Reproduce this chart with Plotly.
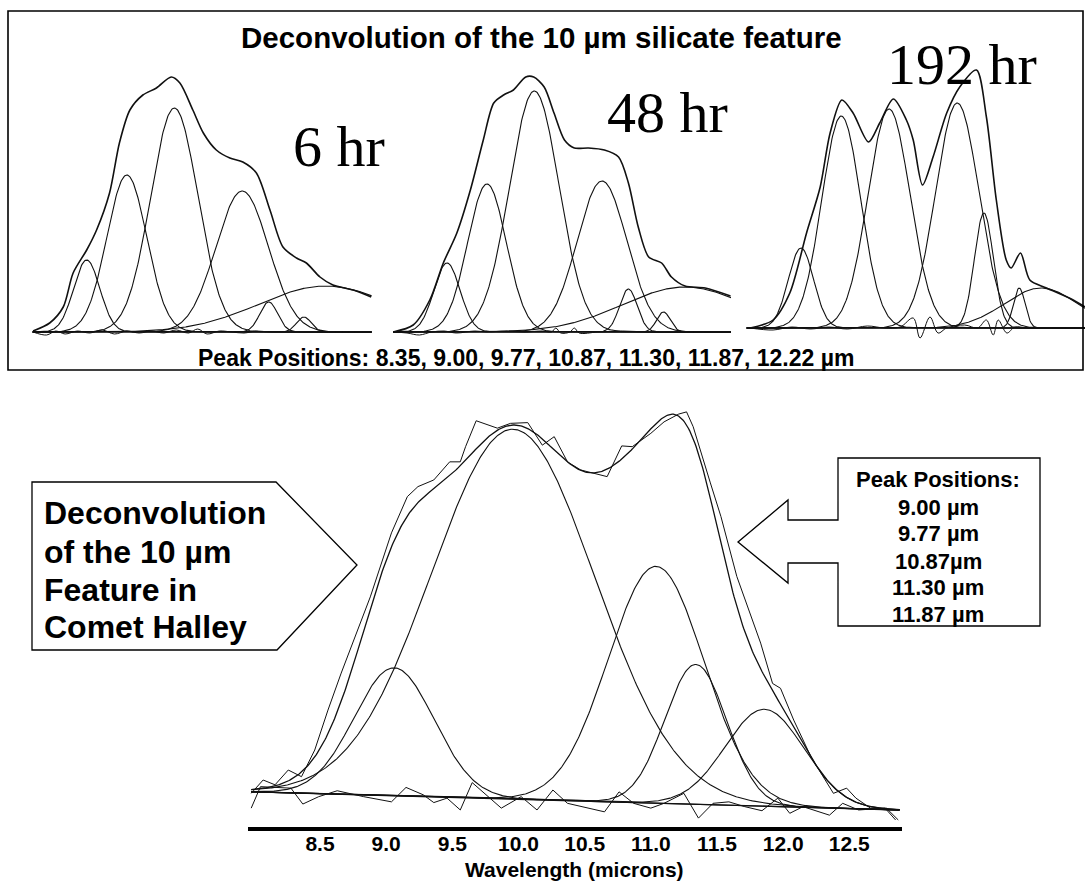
import numpy as np
import plotly.graph_objects as go

# ---------------- data ----------------
PEAKS = [8.35, 9.00, 9.77, 10.87, 11.30, 11.87, 12.22]          # µm, shared by the three upper panels
PANEL_LABELS = ["6 hr", "48 hr", "192 hr"]

# component heights (arbitrary flux units) and FWHM (µm) for each time step
P1_HEIGHT = [72, 157, 224, 141, 30, 15, 46]
P1_FWHM = [0.50, 0.76, 0.90, 1.00, 0.34, 0.28, 2.54]
P2_HEIGHT = [69, 148, 241, 151, 43, 20, 45]
P2_FWHM = [0.50, 0.74, 0.95, 0.95, 0.34, 0.26, 2.40]
P3_HEIGHT = [80, 212, 219, 225, 115, 40, 40]
P3_FWHM = [0.48, 0.74, 0.80, 0.82, 0.36, 0.22, 1.40]

# observed spectra (upper panels)
P1_OBS_X = [7.48, 7.75, 7.97, 8.13, 8.35, 8.51, 8.72, 8.88, 9.05, 9.26, 9.48, 9.72, 9.86, 10.07,
            10.24, 10.45, 10.67, 10.88, 11.10, 11.32, 11.53, 11.75, 11.91, 12.13, 12.34, 12.67, 12.96]
P1_OBS_Y = [1, 9, 25, 59, 82, 102, 139, 189, 222, 237, 244, 255, 249, 222,
            199, 182, 174, 170, 159, 122, 85, 74, 69, 55, 47, 42, 35]
P2_OBS_X = [7.47, 7.80, 8.07, 8.29, 8.51, 8.73, 8.94, 9.11, 9.27, 9.43, 9.63, 9.76, 9.93, 10.09,
            10.26, 10.42, 10.65, 10.91, 11.14, 11.30, 11.46, 11.63, 11.84, 12.00, 12.22, 12.55, 12.96]
P2_OBS_Y = [0, 7, 32, 69, 99, 142, 192, 229, 237, 242, 255, 255, 245, 219,
            192, 184, 184, 182, 175, 149, 105, 75, 69, 55, 46, 44, 36]
P3_OBS_X = [7.53, 7.90, 8.17, 8.44, 8.66, 8.82, 9.01, 9.19, 9.44, 9.62, 9.84, 10.05, 10.16, 10.31,
            10.48, 10.70, 10.91, 11.18, 11.34, 11.50, 11.66, 11.74, 11.89, 12.04, 12.31, 12.74, 12.93]
P3_OBS_Y = [0, 8, 35, 95, 141, 195, 228, 215, 186, 205, 229, 208, 188, 143,
            171, 215, 241, 258, 211, 128, 68, 60, 75, 48, 40, 28, 21]

# residuals (upper panels)
P1_RES_X = [7.48, 7.7, 7.85, 8.0, 8.2, 8.4, 8.6, 8.8, 9.0, 9.2, 9.4, 9.6, 9.8, 10.0, 10.15,
            10.3, 10.5, 10.7, 10.9, 11.1, 11.3, 11.6, 12.0, 12.5, 12.96]
P1_RES_Y = [0, -3, 1, -2, 1, -1, 2, -2, 1, -1, 1, -1, 2, -1, 3, -2, 1, 0, -1, 1, 0, 0, 0, 0, 0]
P2_RES_X = [7.47, 7.7, 7.9, 8.1, 8.3, 8.5, 8.8, 9.0, 9.3, 9.6, 9.9, 10.05, 10.12, 10.2, 10.35,
            10.42, 10.5, 10.8, 11.2, 11.6, 12.0, 12.96]
P2_RES_Y = [0, -1, -3, 0, 1, -1, 1, 0, 1, 0, 1, 0, 4, -1, 0, 4, -1, 0, 1, 0, 0, 0]
P3_RES_X = [7.53, 7.9, 8.2, 8.5, 8.8, 9.1, 9.42, 9.7, 9.95, 10.16, 10.27, 10.43, 10.56, 10.7,
            10.99, 11.2, 11.34, 11.45, 11.53, 11.67, 11.8, 12.0, 12.4, 12.93]
P3_RES_Y = [0, -2, 1, -1, 1, -1, 2, 0, 1, 10, -10, 11, -5, 0, 3, 0, 8, -7, 8, -5, 1, 0, 0, 0]

# Comet Halley (lower panel)
HAL_CENTER = [9.06, 9.96, 11.04, 11.34, 11.86]
HAL_HEIGHT = [34.6, 100.0, 64.0, 37.8, 26.2]
HAL_FWHM = [0.71, 1.45, 0.85, 0.55, 0.70]
HAL_BASE_X = [7.98, 12.88]
HAL_BASE_Y = [2.2, -2.7]
HAL_OBS_X = [7.98, 8.07, 8.16, 8.26, 8.36, 8.46, 8.56, 8.66, 8.88, 9.04, 9.16, 9.24, 9.36, 9.48,
             9.56, 9.60, 9.68, 9.84, 9.94, 10.07, 10.18, 10.27, 10.37, 10.47, 10.67, 10.78, 10.86,
             11.00, 11.10, 11.21, 11.27, 11.32, 11.45, 11.53, 11.65, 11.83, 11.92, 11.98, 12.08,
             12.21, 12.38, 12.48, 12.55, 12.66, 12.78, 12.87]
HAL_OBS_Y = [1.8, 5.4, 4.1, 8.1, 6.3, 13.5, 24.3, 34.3, 54.9, 72.2, 82.0, 84.7, 86.5, 91.4,
             91.4, 95.5, 102.5, 100.5, 101.8, 102.0, 95.9, 98.2, 91.4, 89.2, 87.4, 95.7, 95.5,
             99.1, 102.2, 104.3, 104.9, 100.9, 85.7, 76.6, 60.4, 42.4, 31.5, 30.2, 21.6,
             11.7, 1.8, 3.2, 0.5, -2.2, -2.2, -5.4]
HAL_RES_X = [7.98, 8.05, 8.28, 8.37, 8.49, 8.63, 8.83, 9.04, 9.15, 9.28, 9.36, 9.46, 9.56, 9.65,
             9.87, 10.02, 10.14, 10.26, 10.37, 10.65, 10.76, 10.87, 11.00, 11.10, 11.25, 11.36,
             11.47, 11.59, 11.71, 11.84, 11.96, 12.05, 12.15, 12.35, 12.45, 12.57, 12.77, 12.85]
HAL_RES_Y = [-2.2, 3.6, 3.2, -1.1, 0.9, 2.5, 0.9, -0.5, 3.4, 1.4, -0.7, 0.5, -2.7, 4.7,
             -2.2, 0.9, -2.7, 2.7, -0.9, -3.2, 2.2, -0.9, -2.2, -0.9, 1.8, -4.9,
             -0.9, -0.5, -1.8, -2.9, 0.5, -3.6, -1.8, -4.1, -0.9, -2.7, -2.2, -5.4]

X_TICKS = [8.5, 9.0, 9.5, 10.0, 10.5, 11.0, 11.5, 12.0, 12.5]
X_TICK_TEXT = ["8.5", "9.0", "9.5", "10.0", "10.5", "11.0", "11.5", "12.0", "12.5"]
HALLEY_PEAK_TEXT = ["9.00 µm", "9.77 µm", "10.87µm", "11.30 µm", "11.87 µm"]

# ---------------- helpers ----------------
W, H = 1085, 882
SANS = "Liberation Sans, Arial, Helvetica, sans-serif"
SERIF = "Liberation Serif, Times New Roman, serif"
INK = "#111111"


def fx(p):
    return p / W


def fy(p):
    return 1 - p / H


def gauss(x, c, h, fwhm):
    s = fwhm / 2.3548
    return h * np.exp(-0.5 * ((x - c) / s) ** 2)


fig = go.Figure()

panels = [
    dict(h=P1_HEIGHT, w=P1_FWHM, ox=P1_OBS_X, oy=P1_OBS_Y, rx=P1_RES_X, ry=P1_RES_Y,
         xr=[7.47, 12.97], yr=[-8, 272], dom=[32.4, 371.8]),
    dict(h=P2_HEIGHT, w=P2_FWHM, ox=P2_OBS_X, oy=P2_OBS_Y, rx=P2_RES_X, ry=P2_RES_Y,
         xr=[7.47, 12.97], yr=[-8, 272], dom=[392.9, 731.1]),
    dict(h=P3_HEIGHT, w=P3_FWHM, ox=P3_OBS_X, oy=P3_OBS_Y, rx=P3_RES_X, ry=P3_RES_Y,
         xr=[7.47, 12.93], yr=[-12, 268], dom=[746.4, 1085.0]),
]

layout_axes = {}
for i, p in enumerate(panels):
    k = "" if i == 0 else str(i + 1)
    xa, ya = "x" + k, "y" + k
    grid = np.linspace(p["xr"][0], p["xr"][1], 500)
    for c, h, w in zip(PEAKS, p["h"], p["w"]):
        fig.add_trace(go.Scatter(x=grid, y=gauss(grid, c, h, w), mode="lines",
                                 line=dict(color=INK, width=1.1), xaxis=xa, yaxis=ya,
                                 hoverinfo="skip"))
    fig.add_trace(go.Scatter(x=[p["xr"][0], p["xr"][1]], y=[0, 0], mode="lines",
                             line=dict(color=INK, width=1.2), xaxis=xa, yaxis=ya))
    fig.add_trace(go.Scatter(x=p["rx"], y=p["ry"], mode="lines",
                             line=dict(color=INK, width=1.0, shape="spline"), xaxis=xa, yaxis=ya))
    fig.add_trace(go.Scatter(x=p["ox"], y=p["oy"], mode="lines",
                             line=dict(color=INK, width=1.6, shape="spline", smoothing=0.8),
                             xaxis=xa, yaxis=ya))
    layout_axes["xaxis" + k] = dict(domain=[fx(p["dom"][0]), fx(p["dom"][1])], range=p["xr"],
                                    visible=False, anchor=ya, fixedrange=True)
    layout_axes["yaxis" + k] = dict(domain=[fy(340), fy(60)], range=p["yr"],
                                    visible=False, anchor=xa, fixedrange=True)

# lower panel
hx = np.linspace(HAL_BASE_X[0], HAL_BASE_X[1], 600)
base = np.interp(hx, HAL_BASE_X, HAL_BASE_Y)
total = base.copy()
for c, h, w in zip(HAL_CENTER, HAL_HEIGHT, HAL_FWHM):
    g = gauss(hx, c, h, w)
    total = total + g
    fig.add_trace(go.Scatter(x=hx, y=base + g, mode="lines", line=dict(color=INK, width=1.1),
                             xaxis="x4", yaxis="y4"))
fig.add_trace(go.Scatter(x=HAL_BASE_X, y=HAL_BASE_Y, mode="lines",
                         line=dict(color=INK, width=1.3), xaxis="x4", yaxis="y4"))
fig.add_trace(go.Scatter(x=HAL_RES_X, y=HAL_RES_Y, mode="lines",
                         line=dict(color=INK, width=1.0), xaxis="x4", yaxis="y4"))
fig.add_trace(go.Scatter(x=hx, y=total, mode="lines", line=dict(color=INK, width=1.3),
                         xaxis="x4", yaxis="y4"))
fig.add_trace(go.Scatter(x=HAL_OBS_X, y=HAL_OBS_Y, mode="lines",
                         line=dict(color=INK, width=1.0), xaxis="x4", yaxis="y4"))

layout_axes["xaxis4"] = dict(domain=[fx(248.3), fx(901.7)], range=[7.958, 12.896],
                             showline=True, linewidth=4, linecolor="black",
                             ticks="", ticklabelstandoff=-5,
                             tickvals=X_TICKS, ticktext=["<b>%s</b>" % t for t in X_TICK_TEXT],
                             tickfont=dict(family=SANS, size=21, color="black"),
                             showgrid=False, zeroline=False, anchor="y4", fixedrange=True)
layout_axes["yaxis4"] = dict(domain=[fy(827), fy(405)], range=[-7.3, 106.76],
                             visible=False, anchor="x4", fixedrange=True)

# ---------------- annotations ----------------
annotations = []


def ann(text, x, y, size, family=SANS, bold=True, xanchor="center"):
    annotations.append(dict(text=("<b>%s</b>" % text) if bold else text, x=fx(x), y=fy(y),
                            xref="paper", yref="paper", xanchor=xanchor, yanchor="middle",
                            showarrow=False, font=dict(family=family, size=size, color="black")))


ann("Deconvolution of the 10 µm silicate feature", 541, 37, 29.5)
ann("Peak Positions: " + ", ".join("%.2f" % v for v in PEAKS) + " µm", 526, 358, 23)
for label, (cx, cy) in zip(PANEL_LABELS, [(339, 147), (667, 113), (962, 64)]):
    ann(label, cx, cy, 58, family=SERIF, bold=False)

for line, cy in zip(["Deconvolution", "of the 10 µm", "Feature in", "Comet Halley"],
                    [513, 552, 590, 627]):
    ann(line, 42, cy, 32, xanchor="left")

ann("Peak Positions:", 938, 479, 22)
for line, cy in zip(HALLEY_PEAK_TEXT, [507, 533, 561, 587, 614]):
    ann(line, 938, cy, 22)

ann("Wavelength (microns)", 574, 869, 21)

# ---------------- frames / callouts ----------------


def path(points):
    return "M " + " L ".join("%.5f,%.5f" % (fx(a), fy(b)) for a, b in points) + " Z"


shapes = [
    dict(type="rect", xref="paper", yref="paper", x0=fx(8), y0=fy(11), x1=fx(1083), y1=fy(370),
         line=dict(color="black", width=1.6)),
    dict(type="path", xref="paper", yref="paper",
         path=path([(32, 482), (276, 482), (357, 565), (277, 650), (32, 650)]),
         line=dict(color="black", width=1.3)),
    dict(type="path", xref="paper", yref="paper",
         path=path([(838, 458), (1040, 458), (1040, 626), (838, 626), (838, 563), (788, 563),
                    (788, 583), (738, 542), (788, 500), (788, 520), (838, 520)]),
         line=dict(color="black", width=1.3)),
]

fig.update_layout(width=W, height=H, margin=dict(l=0, r=0, t=0, b=0), autosize=False,
                  paper_bgcolor="white", plot_bgcolor="rgba(0,0,0,0)", showlegend=False,
                  annotations=annotations, shapes=shapes, **layout_axes)

fig.write_html("out.html")
